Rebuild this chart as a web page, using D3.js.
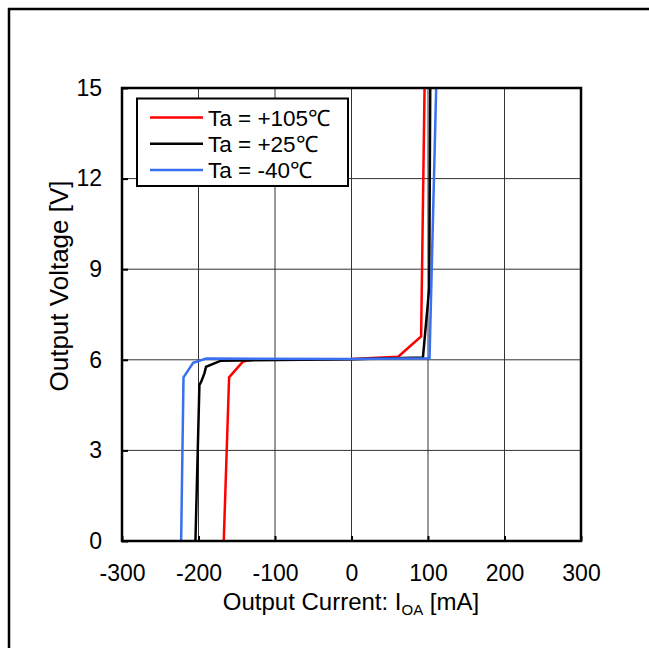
<!DOCTYPE html>
<html><head><meta charset="utf-8">
<script src="https://cdn.jsdelivr.net/npm/d3@7"></script>
<style>body{margin:0;background:#fff}svg{display:block}text{font-family:"Liberation Sans",Arial,sans-serif;fill:#000}</style>
</head><body>
<script>
const xTicks=[-300,-200,-100,0,100,200,300];
const yTicks=[0,3,6,9,12,15];
const seriesNames=["Ta = +105\u2103","Ta = +25\u2103","Ta = -40\u2103"];
const seriesColors=["#ff0000","#000000","#3a6ff2"];
const red105=[[-167,0],[-160,5.42],[-142,5.94],[-130,6.0],[0,6.03],[61,6.1],[91,6.77],[95.5,15]];
const black25=[[-204,0],[-198.8,5.17],[-196.6,5.27],[-192.3,5.55],[-190.1,5.77],[-179.3,5.88],[-170.6,5.97],[0,6.02],[93.4,6.08],[101.6,8.37],[102.9,15]];
const blue40=[[-222.7,0],[-219.6,5.42],[-207,5.9],[-190,6.04],[0,6.03],[102,6.05],[110.7,15]];
const seriesData=[red105,black25,blue40];

const W=649,H=648;
const svg=d3.select("body").append("svg").attr("width",W).attr("height",H);
// outer frame
svg.append("path").attr("d","M9,"+(H+5)+"V9H"+(W+5)).attr("fill","none").attr("stroke","#000").attr("stroke-width",2.5);

const L=122,R=581,T=88,B=541;
const x=d3.scaleLinear().domain([-300,300]).range([L,R]);
const y=d3.scaleLinear().domain([0,15]).range([B,T]);

// grid
const g=svg.append("g");
g.selectAll(".vg").data(xTicks.slice(1,-1)).join("line").attr("x1",d=>x(d)).attr("x2",d=>x(d)).attr("y1",T).attr("y2",B).attr("stroke","#333").attr("stroke-width",1);
g.selectAll(".hg").data(yTicks.slice(1,-1)).join("line").attr("x1",L).attr("x2",R).attr("y1",d=>y(d)).attr("y2",d=>y(d)).attr("stroke","#333").attr("stroke-width",1);

// axes
const fmt=d=>String(d);
const xa=svg.append("g").attr("transform","translate(0,"+B+")").call(d3.axisBottom(x).tickValues(xTicks).tickSize(-5).tickPadding(24).tickFormat(fmt));
const ya=svg.append("g").attr("transform","translate("+L+",0)").call(d3.axisLeft(y).tickValues(yTicks).tickSize(-6).tickPadding(20).tickFormat(fmt));
[xa,ya].forEach(a=>{a.select(".domain").remove();a.selectAll("line").attr("stroke","#000").attr("stroke-width",2);a.selectAll("text").attr("font-size",23).attr("font-family","Liberation Sans, Arial, sans-serif");});

// series
const line=d3.line().x(d=>x(d[0])).y(d=>y(d[1]));
svg.selectAll(".s").data(seriesData).join("path").attr("d",line).attr("fill","none")
 .attr("stroke",(d,i)=>seriesColors[i]).attr("stroke-width",2.5).attr("stroke-linejoin","miter");

// plot border
svg.append("rect").attr("x",L).attr("y",T).attr("width",R-L).attr("height",B-T).attr("fill","none").attr("stroke","#000").attr("stroke-width",2.5);

// legend
const lg=svg.append("g");
lg.append("rect").attr("x",137).attr("y",98.5).attr("width",211).attr("height",87.5).attr("fill","#fff").attr("stroke","#000").attr("stroke-width",2);
seriesNames.forEach((n,i)=>{
  const cy=117.5+i*26.3;
  lg.append("line").attr("x1",150).attr("x2",203).attr("y1",cy).attr("y2",cy).attr("stroke",seriesColors[i]).attr("stroke-width",2.5);
  lg.append("text").attr("x",208).attr("y",cy).attr("dy","0.36em").attr("font-size",22.5).text(n);
});

// axis titles
const xt=svg.append("text").attr("x",351).attr("y",610).attr("text-anchor","middle").attr("font-size",24);
xt.append("tspan").text("Output Current: I");
xt.append("tspan").attr("font-size",15).attr("dy",5).text("OA");
xt.append("tspan").attr("dy",-5).text(" [mA]");
svg.append("text").attr("transform","translate(68,286) rotate(-90)").attr("text-anchor","middle").attr("font-size",26).text("Output Voltage [V]");
</script>
</body></html>
